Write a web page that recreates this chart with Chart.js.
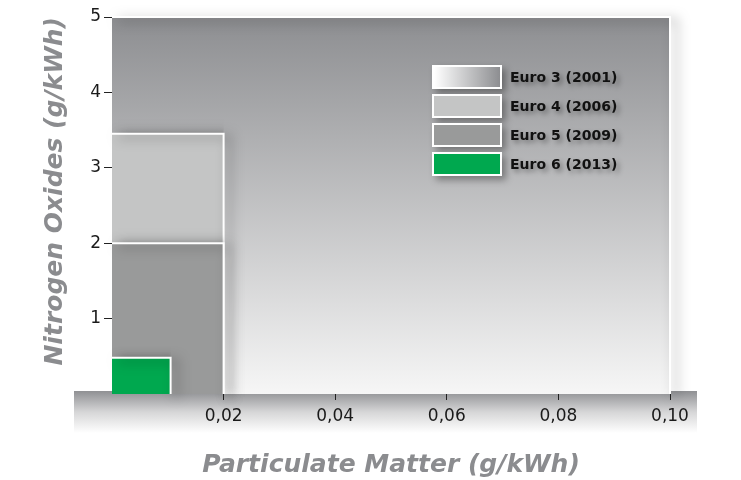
<!DOCTYPE html>
<html>
<head>
<meta charset="utf-8">
<script src="https://cdn.jsdelivr.net/npm/chart.js@4.4.0/dist/chart.umd.min.js"></script>
<style>
  html, body { margin: 0; padding: 0; background: #fff; }
  #wrap { position: relative; width: 741px; height: 480px; }
  #legend { position: absolute; left: 432px; top: 62px; font-family: "DejaVu Sans", sans-serif; }
  .item { display: flex; align-items: center; height: 29px; }
  .swatch { width: 66px; height: 20px; border: 2px solid #fff; box-shadow: 4px 4px 7px rgba(0,0,0,0.35); margin-right: 8px; }
  .label { font-weight: bold; font-size: 14px; color: #111; text-shadow: 3px 3px 5px rgba(0,0,0,0.35); }
</style>
</head>
<body>
<div id="wrap">
  <canvas id="myChart" width="741" height="480"></canvas>
  <div id="legend"></div>
</div>
<script>
// Euro emission standards
var categories = ["Euro 3 (2001)", "Euro 4 (2006)", "Euro 5 (2009)", "Euro 6 (2013)"];
var pmLimits = [0.1, 0.02, 0.02, 0.0105];     // Particulate Matter (g/kWh)
var noxLimits = [5, 3.45, 2.0, 0.48];         // Nitrogen Oxides (g/kWh)
var xTickLabels = ["", "0,02", "0,04", "0,06", "0,08", "0,10"];
var yTickLabels = ["", "1", "2", "3", "4", "5"];
var boxColors = [null, "#c4c5c5", "#999a9a", "#00a84f"];

function bgGradient(ctx, area) {
    var g = ctx.createLinearGradient(0, area.top, 0, area.bottom);
    g.addColorStop(0, "#8d8e91");
    g.addColorStop(1, "#f6f6f6");
    return g;
}

// no tick mark at the origin
function tickColor(c) {
    return c.index === 0 ? "rgba(0,0,0,0)" : "#222";
}

var datasets = [];
for (var i = 0; i < categories.length; i++) {
    var pm = pmLimits[i], nox = noxLimits[i];
    datasets.push({
        label: categories[i],
        data: [{ x: 0, y: nox }, { x: pm, y: nox }, { x: pm, y: 0 }],
        showLine: true,
        fill: "origin",
        borderColor: "#ffffff",
        borderWidth: 2,
        pointRadius: 0,
        tension: 0,
        clip: false,
        order: categories.length - i,
        backgroundColor: boxColors[i] || function (c) {
            var area = c.chart.chartArea;
            if (!area) return "#aaa";
            return bgGradient(c.chart.ctx, area);
        }
    });
}

// grey band behind the x axis, shadows under boxes and tick labels
var shading = {
    id: "shading",
    beforeDraw: function (chart) {
        var ctx = chart.ctx;
        var top = chart.chartArea.bottom - 3;
        var g = ctx.createLinearGradient(0, top, 0, top + 42);
        g.addColorStop(0, "#8f9093");
        g.addColorStop(0.5, "#d6d6d7");
        g.addColorStop(1, "#ffffff");
        ctx.save();
        ctx.fillStyle = g;
        ctx.fillRect(74, top, 623, 42);
        ctx.restore();
    },
    beforeDatasetsDraw: function (chart) {
        var ctx = chart.ctx;
        ctx.save();
        ctx.shadowColor = "rgba(0,0,0,0.5)";
        ctx.shadowBlur = 12;
        ctx.shadowOffsetX = 6;
        ctx.shadowOffsetY = 3;
    },
    afterDatasetsDraw: function (chart) {
        var ctx = chart.ctx;
        ctx.shadowColor = "rgba(0,0,0,0.35)";
        ctx.shadowBlur = 6;
        ctx.shadowOffsetX = 3;
        ctx.shadowOffsetY = 3;
    },
    afterDraw: function (chart) {
        chart.ctx.restore();
    }
};

new Chart("myChart", {
    type: "scatter",
    data: { datasets: datasets },
    options: {
        responsive: false,
        animation: false,
        layout: { padding: { top: 17, left: 40, right: 71, bottom: 0 } },
        plugins: { legend: { display: false }, tooltip: { enabled: false } },
        scales: {
            x: {
                type: "linear", min: 0, max: 0.1, z: 1,
                afterFit: function (s) { s.height = 86; },
                border: { display: false },
                grid: { drawOnChartArea: false, drawTicks: true, tickLength: 6, color: tickColor, tickWidth: 1 },
                ticks: {
                    stepSize: 0.02, padding: 6, color: "#1a1a1a",
                    font: { family: "DejaVu Sans", size: 17 },
                    callback: function (v, idx) { return xTickLabels[idx]; }
                },
                title: {
                    display: true, text: "Particulate Matter (g/kWh)", color: "#8b8c8f",
                    padding: { top: 0, bottom: 0 },
                    font: { family: "DejaVu Sans", size: 25, weight: "bold", style: "italic" }
                }
            },
            y: {
                type: "linear", min: 0, max: 5, z: 1,
                afterFit: function (s) { s.width = 72; },
                border: { display: false },
                grid: { drawOnChartArea: false, drawTicks: true, tickLength: 8, color: tickColor, tickWidth: 1 },
                ticks: {
                    stepSize: 1, padding: 3, color: "#1a1a1a",
                    font: { family: "DejaVu Sans", size: 17 },
                    callback: function (v, idx) { return yTickLabels[idx]; }
                },
                title: {
                    display: true, text: "Nitrogen Oxides (g/kWh)", color: "#8b8c8f", align: "end",
                    padding: { top: 0, bottom: 0 },
                    font: { family: "DejaVu Sans", size: 25, weight: "bold", style: "italic" }
                }
            }
        }
    },
    plugins: [shading]
});

// legend built from the same category list
var legend = document.getElementById("legend");
for (var j = 0; j < categories.length; j++) {
    var item = document.createElement("div");
    item.className = "item";
    var sw = document.createElement("div");
    sw.className = "swatch";
    sw.style.background = boxColors[j] || "linear-gradient(to right, #ffffff, #8d8e91)";
    var lb = document.createElement("span");
    lb.className = "label";
    lb.textContent = categories[j];
    item.appendChild(sw);
    item.appendChild(lb);
    legend.appendChild(item);
}
</script>
</body>
</html>
